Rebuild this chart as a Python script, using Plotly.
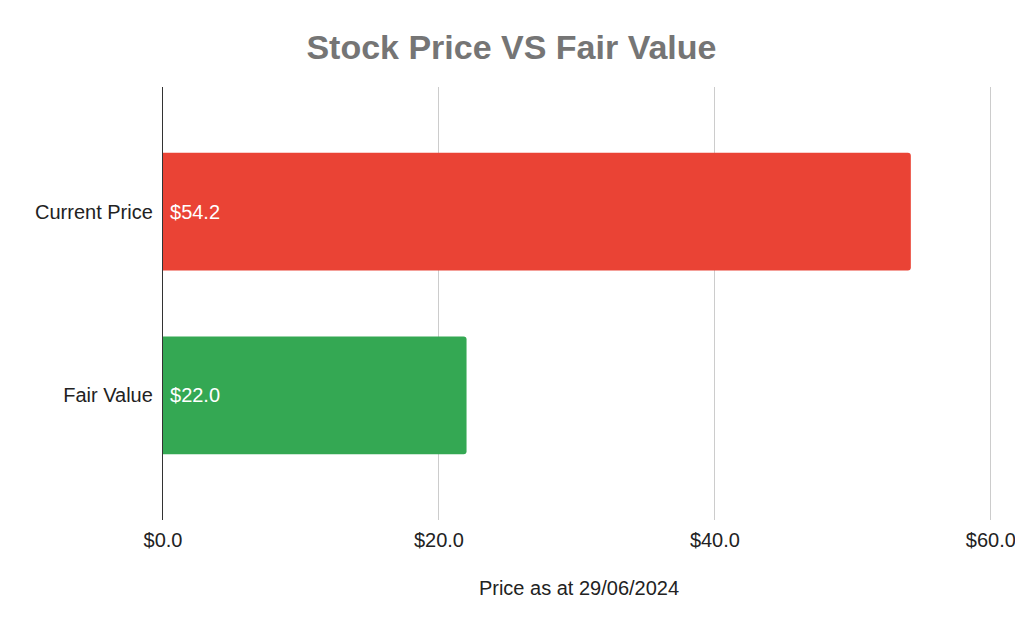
import plotly.graph_objects as go

# dados
categorias = ["Fair Value", "Current Price"]
valores = [22.0, 54.2]
cores = ["#34A853", "#EA4335"]
rotulos = [f"\u2009${v:.1f}" for v in valores]
ticks_x = [0, 20, 40, 60]
ticks_txt = [f"${t:.1f}" for t in ticks_x]

FONTE = "Liberation Sans, Arial"

fig = go.Figure()

fig.add_trace(go.Bar(
    y=categorias,
    x=valores,
    orientation="h",
    marker=dict(color=cores, cornerradius=3, line=dict(width=0)),
    width=0.64,
    text=rotulos,
    textposition="inside",
    insidetextanchor="start",
    textfont=dict(color="white", size=20, family=FONTE),
    hoverinfo="skip",
))

# a página tem margem de 8px, por isso 1015x616
fig.update_layout(
    title=dict(text="<b>Stock Price VS Fair Value</b>", x=0.496, xanchor="center",
               y=1 - 39 / 616, yanchor="middle",
               font=dict(size=34, color="#757575", family=FONTE)),
    width=1015,
    height=616,
    margin=dict(l=155, r=28, t=79, b=104),
    plot_bgcolor="white",
    paper_bgcolor="white",
    showlegend=False,
    font=dict(family=FONTE, size=20, color="#222222"),
)

fig.update_xaxes(
    range=[0, 60.3],  # um pouco além de 60 para a grade de 60 aparecer
    tickvals=ticks_x,
    ticktext=ticks_txt,
    showgrid=True,
    gridcolor="#cccccc",
    gridwidth=1.3,
    zeroline=False,
    automargin=False,
    ticklabelstandoff=6,
    title=dict(text="Price as at 29/06/2024", standoff=30, font=dict(size=20, color="#222222")),
)

fig.update_yaxes(
    range=[-0.677, 1.677],
    showline=True,
    linecolor="#333333",
    linewidth=1.3,
    showgrid=False,
    ticklabelstandoff=5,
)

fig.write_html("out.html")
